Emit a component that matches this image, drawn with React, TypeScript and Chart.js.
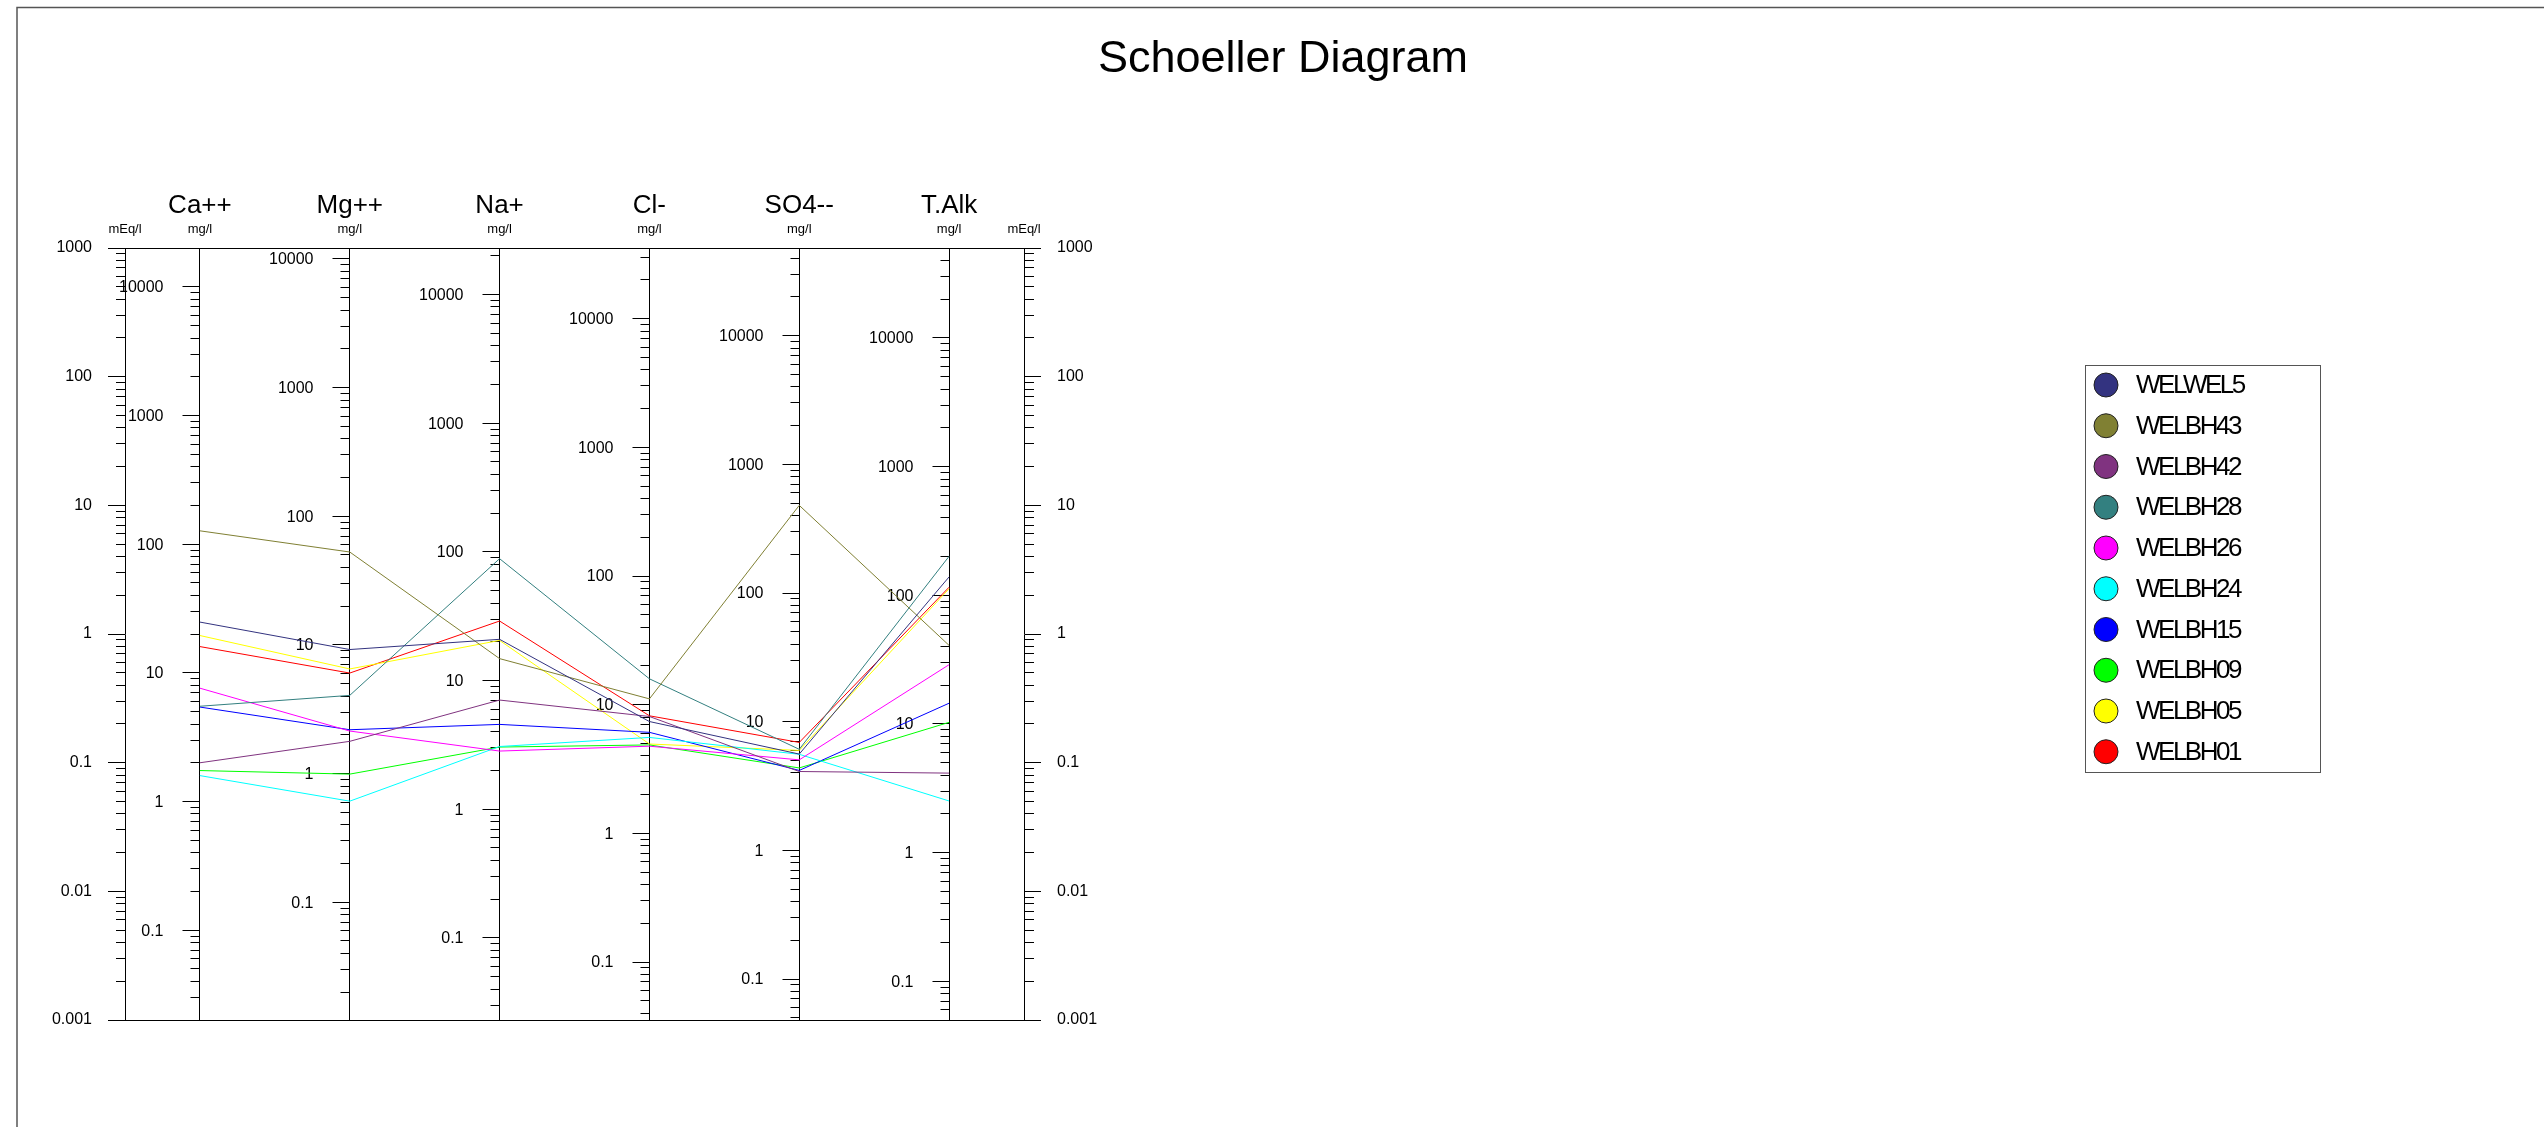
import React, { useEffect, useRef } from "react";
import { Chart, registerables } from "chart.js";

Chart.register(...registerables);

// ---- data (mg/l) ----
const IONS = ["Ca++", "Mg++", "Na+", "Cl-", "SO4--", "T.Alk"];
const UNIT_LABELS = ["mg/l", "mg/l", "mg/l", "mg/l", "mg/l", "mg/l"];
// mg/l per mEq/l for each ion (T.Alk as CaCO3)
const MEQ_FACTORS = [20.04, 12.15, 22.99, 35.45, 48.03, 50.04];

const WELLS = ["WELWEL5", "WELBH43", "WELBH42", "WELBH28", "WELBH26", "WELBH24", "WELBH15", "WELBH09", "WELBH05", "WELBH01"];
const WELL_COLORS = ["#333380", "#808033", "#803380", "#338080", "#ff00ff", "#00ffff", "#0000ff", "#00ff00", "#ffff00", "#ff0000"];

const WELWEL5 = [24.8, 9.2, 20.9, 7.4, 5.6, 139];
const WELBH43 = [127, 52.7, 14.8, 11.1, 480, 40.8];
const WELBH42 = [2.0, 1.78, 7.05, 8.1, 4.1, 4.15];
const WELBH28 = [5.5, 4.05, 88.5, 15.9, 6.1, 201];
const WELBH26 = [7.6, 2.14, 2.83, 4.76, 5.05, 28.9];
const WELBH24 = [1.59, 0.61, 3.07, 5.57, 5.58, 2.52];
const WELBH15 = [5.42, 2.19, 4.56, 6.1, 4.18, 14.5];
const WELBH09 = [1.74, 0.99, 3.04, 4.87, 4.37, 10.3];
const WELBH05 = [19.5, 6.5, 20.5, 4.95, 5.98, 112.6];
const WELBH01 = [16.0, 6.04, 29.0, 8.2, 6.9, 115.6];
const WELL_VALUES = [WELWEL5, WELBH43, WELBH42, WELBH28, WELBH26, WELBH24, WELBH15, WELBH09, WELBH05, WELBH01];

const MEQ_MIN = 0.001;
const MEQ_MAX = 1000;
const MEQ_TICKS = ["1000", "100", "10", "1", "0.1", "0.01", "0.001"];
const MG_TICKS = ["10000", "1000", "100", "10", "1", "0.1"];

const FONT = "'Liberation Sans', Arial, sans-serif";

function logTicks(min: number, max: number) {
  const out: { value: number; major: boolean }[] = [];
  for (let e = -4; e <= 5; e++) {
    const base = Number("1e" + e);
    for (let k = 1; k <= 9; k++) {
      const v = k === 1 ? base : k * base;
      if (v >= min * 0.999999 && v <= max * 1.000001) out.push({ value: v, major: k === 1 });
    }
  }
  return out;
}

function meqLabel(v: number) {
  const hit = MEQ_TICKS.find((t) => Math.abs(Math.log10(parseFloat(t)) - Math.log10(v)) < 1e-6);
  return hit || "";
}

const framePlugin = {
  id: "frame",
  beforeDraw(chart: any) {
    const ctx = chart.ctx;
    ctx.save();
    ctx.fillStyle = "#ffffff";
    ctx.fillRect(0, 0, chart.width, chart.height);
    ctx.strokeStyle = "#555555";
    ctx.lineWidth = 1.5;
    ctx.strokeRect(17, 7.5, chart.width + 100, chart.height + 100);
    ctx.restore();
  },
};

const ionAxesPlugin = {
  id: "ionAxes",
  beforeDatasetsDraw(chart: any) {
    const ctx = chart.ctx;
    const xs = chart.scales.x;
    ctx.save();
    ctx.strokeStyle = "#000";
    ctx.lineWidth = 1;
    ctx.fillStyle = "#000";
    ctx.font = "16px " + FONT;
    ctx.textAlign = "right";
    ctx.textBaseline = "middle";
    IONS.forEach((_, i) => {
      const s = chart.scales["yIon" + i];
      const x = Math.round(xs.getPixelForValue(i) - 0.5) + 0.5;
      logTicks(s.min, s.max).forEach((t) => {
        const y = Math.round(s.getPixelForValue(t.value) - 0.5) + 0.5;
        const len = t.major ? 17 : 9;
        ctx.beginPath();
        ctx.moveTo(x - len, y);
        ctx.lineTo(x, y);
        ctx.stroke();
      });
      MG_TICKS.forEach((t) => {
        const v = parseFloat(t);
        if (v >= s.min && v <= s.max) ctx.fillText(t, x - 36, s.getPixelForValue(v) + 1);
      });
    });
    // mEq/l unit labels above the two mEq/l axes
    ctx.font = "13px " + FONT;
    ctx.textAlign = "center";
    const ca = chart.chartArea;
    ctx.fillText("mEq/l", ca.left, ca.top - 18.5);
    ctx.fillText("mEq/l", ca.right, ca.top - 18.5);
    ctx.restore();
  },
};

const legendPlugin = {
  id: "boxLegend",
  afterDraw(chart: any) {
    const ctx = chart.ctx;
    ctx.save();
    ctx.strokeStyle = "#555";
    ctx.lineWidth = 1;
    ctx.strokeRect(2085.5, 365.5, 235, 407);
    chart.data.datasets.forEach((ds: any, i: number) => {
      const cy = 385 + i * 40.75;
      ctx.beginPath();
      ctx.arc(2106, cy, 12, 0, Math.PI * 2);
      ctx.fillStyle = ds.borderColor;
      ctx.fill();
      ctx.strokeStyle = "#222";
      ctx.lineWidth = 1;
      ctx.stroke();
      ctx.fillStyle = "#000";
      ctx.font = "26px " + FONT;
      try {
        (ctx as any).letterSpacing = "-2.5px";
      } catch (e) {}
      ctx.textAlign = "left";
      ctx.textBaseline = "middle";
      ctx.fillText(ds.label, 2136, cy + 1);
    });
    ctx.restore();
  },
};

function meqAxis(position: "left" | "right", width: number) {
  return {
    type: "logarithmic",
    position,
    min: MEQ_MIN,
    max: MEQ_MAX,
    afterBuildTicks: (scale: any) => {
      scale.ticks = logTicks(MEQ_MIN, MEQ_MAX);
    },
    afterFit: (scale: any) => {
      scale.width = width;
    },
    border: { display: true, color: "#000", width: 1 },
    grid: {
      drawOnChartArea: true,
      drawTicks: true,
      tickLength: 17,
      lineWidth: 1,
      color: (c: any) =>
        c.tick && (Math.abs(c.tick.value - MEQ_MAX) < 1e-9 || Math.abs(c.tick.value - MEQ_MIN) < 1e-12) ? "#000" : "rgba(0,0,0,0)",
      tickColor: "#000",
      tickWidth: 1,
      tickBorderDash: (c: any) => (c.tick && !c.tick.major ? (position === "left" ? [0, 8, 9, 100] : [9, 100]) : []),
    },
    ticks: {
      autoSkip: false,
      padding: 16,
      color: "#000",
      font: { family: FONT, size: 16 },
      callback: (v: any) => meqLabel(Number(v)),
    },
  };
}

export default function App() {
  const ref = useRef<HTMLCanvasElement | null>(null);
  useEffect(() => {
    if (!ref.current) return;
    const datasets = WELLS.map((name, w) => ({
      label: name,
      data: WELL_VALUES[w].map((v, i) => v / MEQ_FACTORS[i]),
      borderColor: WELL_COLORS[w],
      backgroundColor: WELL_COLORS[w],
      borderWidth: 1,
      pointRadius: 0,
      tension: 0,
      fill: false,
    }));
    const ionScales: any = {};
    MEQ_FACTORS.forEach((f, i) => {
      ionScales["yIon" + i] = {
        type: "logarithmic",
        display: false,
        min: MEQ_MIN * f,
        max: MEQ_MAX * f,
      };
    });
    const chart = new Chart(ref.current, {
      type: "line",
      data: { labels: IONS, datasets },
      options: {
        responsive: false,
        animation: false,
        devicePixelRatio: 1,
        layout: { padding: { left: 22, right: 0, top: 0, bottom: 107 } },
        plugins: {
          legend: { display: false },
          tooltip: { enabled: false },
          title: {
            display: true,
            text: "Schoeller Diagram",
            color: "#000",
            font: { family: FONT, size: 45, weight: "normal" },
            padding: { top: 33, bottom: 97 },
          },
        },
        scales: {
          x: {
            type: "category",
            position: "top",
            offset: true,
            weight: 1,
            afterFit: (s: any) => {
              s.height = 37;
            },
            border: { display: false },
            grid: { display: true, drawOnChartArea: true, drawTicks: false, color: "#000", lineWidth: 1, offset: false },
            ticks: { padding: 0, color: "#000", autoSkip: false, maxRotation: 0, font: { family: FONT, size: 26 } },
          },
          xu: {
            type: "category",
            position: "top",
            offset: true,
            weight: 0,
            labels: UNIT_LABELS,
            afterFit: (s: any) => {
              s.height = 27;
            },
            border: { display: false },
            grid: { display: false, drawTicks: false },
            ticks: { padding: 10.5, color: "#000", autoSkip: false, maxRotation: 0, font: { family: FONT, size: 13 } },
          },
          y: meqAxis("left", 103),
          y2: meqAxis("right", 1520),
          ...ionScales,
        },
      } as any,
      plugins: [framePlugin, ionAxesPlugin, legendPlugin],
    });
    return () => chart.destroy();
  }, []);
  return (
    <div style={{ position: "fixed", left: 0, top: 0, width: 2544, height: 1127, background: "#fff" }}>
      <canvas ref={ref} width={2544} height={1127} style={{ display: "block", width: 2544, height: 1127 }} />
    </div>
  );
}
